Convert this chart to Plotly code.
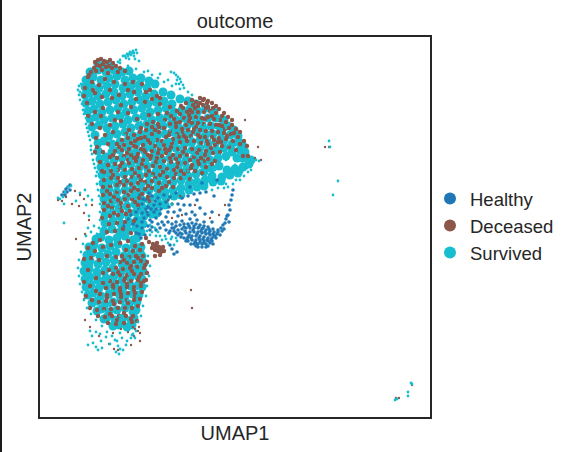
import plotly.graph_objects as go

# Values; the scale is the reading scale of the frame (no UMAP ticks are shown).
survived_body = [
(98,65),(105,64),(111,66),
(90,72),(98,70),(106,72),(114,70),(122,72),(129,71),
(86,80),(93,77),(101,80),(109,78),(117,76),(125,80),(133,78),(141,78),(149,81),
(85,87),(91,85),(99,88),(107,86),(115,84),(123,88),(131,86),(139,85),(147,88),(155,84),
(85,95),(90,93),(98,96),(106,94),(114,92),(122,96),(130,94),(138,92),(146,96),(154,94),(163,92),(171,95),
(86,103),(92,101),(100,104),(108,102),(116,100),(124,104),(132,102),(140,100),(148,104),(156,102),(164,101),(172,104),(180,99),(188,101),(196,104),
(88,111),(94,109),(102,112),(110,110),(118,108),(126,112),(134,110),(142,108),(150,112),(158,110),(166,108),(174,112),(182,110),(190,109),(198,111),(206,108),(214,112),
(90,119),(96,117),(104,120),(112,118),(120,116),(128,120),(136,118),(144,116),(152,120),(160,118),(168,116),(176,120),(184,118),(192,116),(200,120),(208,118),(216,118),(224,120),
(92,127),(99,125),(107,128),(115,126),(123,124),(131,128),(139,126),(147,124),(155,128),(163,126),(171,124),(179,128),(187,126),(195,124),(203,128),(211,126),(220,127),(228,126),(234,130),
(95,135),(109,136),(117,134),(125,132),(133,136),(141,134),(149,132),(157,136),(165,134),(173,132),(181,136),(189,134),(197,132),(205,136),(213,134),(221,132),(230,135),(238,136),
(98,143),(104,141),(112,144),(120,142),(128,140),(136,144),(144,142),(152,140),(160,144),(168,142),(176,140),(184,144),(192,142),(200,140),(208,144),(216,142),(224,140),(232,144),(239,142),(243,146),
(98,151),(112,152),(120,150),(128,148),(136,152),(144,150),(152,148),(160,152),(168,150),(176,148),(184,152),(192,150),(200,148),(208,152),(216,150),(224,148),(232,152),(240,150),(245,152),
(100,159),(106,157),(114,160),(122,158),(130,156),(138,160),(146,158),(154,156),(162,160),(170,158),(178,156),(186,160),(194,158),(202,156),(210,160),(218,158),(226,156),(237,158),(243,158),(251,160),
(101,167),(107,165),(115,168),(123,166),(131,164),(139,168),(147,166),(155,164),(163,168),(171,166),(179,164),(187,168),(195,166),(203,164),(211,168),(219,166),(227,170),(235,169),(243,167),(249,164),
(102,175),(108,173),(116,176),(124,174),(132,172),(140,176),(148,174),(156,172),(164,176),(172,174),(180,172),(188,176),(196,174),(204,172),(212,176),(222,177),(230,175),(238,173),
(103,183),(109,181),(117,184),(125,182),(133,180),(141,184),(149,182),(157,180),(165,184),(173,182),(181,180),(189,184),(197,182),(205,180),(213,182),(221,181),
(104,191),(109,189),(117,192),(125,190),(133,188),(141,192),(149,190),(157,188),(165,192),(173,190),(181,188),(189,190),(197,187),(204,186),
(104,199),(110,197),(118,200),(126,198),(134,196),(142,200),(150,198),(158,196),(166,198),(174,196),(181,195),
(105,207),(111,205),(119,208),(127,206),(135,204),(143,208),(151,206),(159,204),(165,205),
(105,215),(112,213),(120,216),(128,214),(136,212),(144,216),(152,214),(157,213),
(105,223),(113,221),(121,224),(129,222),(137,220),(143,224),
(104,231),(112,229),(120,232),(128,230),(136,228),(141,232),
(96,239),(101,237),(109,240),(117,238),(125,236),(133,240),(137,238),
(89,247),(94,245),(102,248),(110,246),(118,244),(126,248),(134,246),(141,247),
(87,255),(92,253),(100,256),(108,254),(116,252),(124,256),(132,254),(140,252),(142,256),
(85,263),(90,261),(98,264),(106,262),(114,260),(122,264),(130,262),(138,260),(144,263),
(84,271),(89,269),(97,272),(105,270),(113,268),(121,272),(129,270),(137,268),(143,271),
(85,279),(90,277),(98,280),(106,278),(114,276),(122,280),(130,278),(138,276),(142,279),
(86,287),(91,285),(99,288),(107,286),(115,284),(123,288),(131,286),(139,284),(142,287),
(88,295),(93,293),(101,296),(109,294),(117,292),(125,296),(133,294),(139,295),
(92,303),(97,301),(105,304),(113,302),(121,300),(129,304),(137,302),
(97,311),(101,309),(109,312),(117,310),(125,308),(133,312),(136,310),
(104,319),(107,317),(115,320),(123,318),(131,320),(134,318),
(113,326),(119,325),(127,327),(132,325),
]

survived_fine = [
(123,56),(127,54),(130,52),(133,51),(136,50),(131,55),(134,56),(137,53),(126,58),(129,59),(135,59),(139,61),(120,60),(118,62),(128,56),(132,53),(134,53),(129,54),(125,56),
(171,72),(174,73),(176,75),(178,77),(180,79),(181,82),(183,85),(184,88),(179,84),(177,80),
(79,86),(78,90),(79,95),(80,100),(83,110),(84,114),(86,124),(88,132),(90,140),(91,146),(92,154),(93,160),(95,168),(96,176),(97,184),
(81,84),(80,92),(82,104),(84,106),(86,118),(87,128),(89,136),(91,150),(94,164),(97,172),(98,190),(99,196),(100,204),(100,212),(100,220),(99,228),(97,234),
(120,63),(128,66),(136,69),(144,72),(152,75),(158,78),(164,82),(172,86),(180,89),(188,92),(148,71),(160,74),(168,80),(176,84),(192,95),
(252,163),(256,160),(259,161),(248,172),(244,176),(240,180),(233,184),(228,187),(224,188),(218,188),(212,190),(247,168),(251,170),(242,172),(236,180),(226,184),
(85,190),(88,196),(63,197),(60,199),(76,201),(86,205),(64,204),(58,198),(89,216),(64,223),(92,200),(80,193),(94,226),
(68,187),(71,186),(65,192),
(165,236),(171,239),(177,241),(162,240),(168,243),(174,245),(158,232),(155,228),(150,235),(147,231),(160,236),(166,239),(172,237),(176,238),(152,232),(156,236),
(88,228),(91,232),(86,236),(83,244),(81,252),(79,260),(78,268),(79,276),(80,284),(82,292),(84,300),(87,308),(91,314),(96,320),(102,326),(148,256),(150,266),(149,276),(147,286),(146,296),(143,306),(141,316),(138,322),
(107,332),(112,336),(120,333),(128,330),(132,335),(136,331),(115,340),(122,338),(127,341),(131,338),(110,344),(118,346),(120,349),(116,352),(119,354),(123,350),(126,345),(133,334),(135,338),
(90,331),(92,336),(96,332),(100,334),(101,341),(93,343),(96,347),(88,345),(102,348),(98,350),(106,337),(117,341),
(104,250),(112,290),(96,270),(88,258),(92,266),(100,275),(118,262),(93,282),(84,272),(128,300),(120,316),(110,306),(136,314),
(126,266),(133,284),(108,280),(117,297),(137,296),(104,311),(123,276),(128,254),(113,249),
(150,120),(138,96),(155,140),(175,150),(200,170),(220,155),(235,165),(185,132),(130,160),(118,190),(160,200),(145,170),(170,130),(210,140),(192,180),(125,135),(140,210),(112,210),(150,225),(128,228),(165,158),(205,125),(228,145),(178,175),(135,150),(155,180),(195,155),(215,170),(108,180),(122,175),
(141,122),(164,142),(183,160),(197,130),(148,160),(116,148),(172,205),(132,197),(208,178),(226,160),(242,164),(188,145),(158,170),(104,158),(122,126),
(143,155),(152,146),(168,164),(180,148),(192,138),(204,147),(216,128),(127,172),(139,187),(113,200),(147,202),(126,218),(164,122),(176,135),(134,178),(202,162),(188,171),(174,183),(160,147),(148,137),
(211,112),(218,120),(226,128),(232,137),(238,147),(199,116),(193,126),(186,120),(178,130),(171,141),(163,135),(155,151),(147,146),(139,143),(131,152),(124,158),(117,170),(110,184),(119,207),(126,196),(136,193),(144,184),(152,176),(159,163),(167,172),(175,165),(183,177),(196,148),(209,132),(222,137),
(128,258),(135,269),(141,266),(122,283),(129,274),(137,289),(115,271),(109,290),(123,305),(131,297),
(329,141),(330,147),(338,181),(333,195),(411,383),(412,384),(408,392),(408,396),(395,400),(397,399),
]

deceased = [
(95,62),(98,60),(101,59),(104,61),(107,62),(110,60),(113,63),(97,65),(100,66),(103,64),(106,67),(109,66),(112,68),(94,68),(91,72),(96,71),(102,70),(108,73),(116,66),(120,68),(118,72),(125,71),
(88,77),(92,82),(85,88),(84,96),(87,103),(93,90),(99,85),(105,79),(114,82),(125,84),(133,82),(142,84),(150,90),(157,96),(152,99),(128,90),(112,98),(103,108),(95,112),(88,116),(92,124),(100,128),(118,112),(131,107),(145,102),(160,104),(170,107),(181,106),(190,110),(203,100),(207,103),
(96,138),(95,152),(100,162),(102,171),(108,144),(113,132),(121,121),(137,119),(149,115),(158,114),(167,113),
(186,103),(192,100),(196,102),(200,98),(204,99),(208,101),(212,103),(216,106),(193,105),(198,106),(203,105),(208,107),(213,108),(219,109),(224,113),(228,117),(232,120),(222,116),(216,113),(210,111),(204,112),(198,112),(192,112),(187,112),(180,114),(184,118),(190,118),(196,117),(202,118),(208,117),(214,119),(220,120),(226,122),(232,125),(236,129),(240,132),(229,128),(222,126),(216,125),(210,124),(204,124),(198,123),(192,123),(186,125),(180,122),(174,119),(170,124),(176,127),(182,129),(188,130),(194,129),(200,130),(206,131),(212,131),(218,132),(224,133),(231,134),(238,137),(244,141),(247,146),(240,144),(233,141),(226,139),(219,138),(212,137),(205,137),(198,135),(191,136),(184,136),(177,134),(170,131),(164,128),(158,124),(152,127),(146,130),(140,132),(134,135),(128,138),(122,140),(117,144),(124,145),(131,143),(138,139),(145,137),(152,134),(159,132),(166,137),(173,139),(180,142),(187,141),(194,141),(201,143),(208,144),(215,145),(222,146),(229,147),(236,150),(243,156),(248,156),
(115,151),(122,150),(129,149),(136,147),(143,145),(150,143),(157,140),(164,145),(171,147),(178,149),(185,148),(192,149),(199,150),(206,151),(213,153),(220,152),
(110,157),(117,158),(124,156),(131,155),(138,154),(145,152),(152,151),(159,149),(166,153),(173,155),(180,156),(187,155),(194,157),(201,158),(208,159),(215,161),
(108,165),(115,164),(122,163),(129,163),(136,161),(143,160),(150,159),(157,158),(164,161),(171,162),(178,163),(185,163),(192,165),(199,164),(206,167),
(104,172),(111,171),(118,170),(125,170),(132,169),(139,168),(146,167),(153,166),(160,167),(167,169),(174,170),(181,171),(188,171),(195,171),(202,173),
(104,180),(111,178),(118,178),(125,177),(132,177),(139,176),(146,175),(153,174),(160,175),(167,177),(174,178),(181,178),(190,179),
(103,187),(110,186),(117,185),(124,185),(131,184),(138,183),(145,182),(152,181),(159,183),(166,186),(173,187),
(103,195),(110,194),(117,192),(124,192),(131,191),(138,190),(145,189),(152,188),(159,191),
(104,203),(111,201),(118,200),(125,199),(132,199),(139,198),(148,197),(104,210),(112,208),(120,207),(128,206),(138,205),(102,218),(110,216),(118,215),(126,214),(109,224),(117,223),(125,222),(134,221),(107,232),(115,231),(123,229),(131,233),
(100,240),(93,243),(88,248),(95,251),(103,247),(111,245),(120,243),(128,241),(135,246),(142,244),(84,259),(91,258),(99,260),(107,256),(116,257),
(153,244),(156,246),(159,247),(162,249),(155,250),(158,251),(161,252),(164,251),(152,248),(157,243),(149,242),(146,238),(160,255),(155,256),(160,250),(156,248),(163,247),(158,249),(153,246),
(126,250),(133,251),(140,250),(122,256),(129,257),(136,256),(143,256),(120,262),(127,263),(134,262),(141,261),(147,262),(116,268),(123,269),(130,268),(137,267),(144,268),(113,274),(120,275),(127,275),(134,274),(141,274),(147,273),(110,281),(117,282),(124,281),(131,281),(138,280),(144,281),(106,288),(113,288),(120,288),(127,287),(134,287),(141,286),(100,294),(107,295),(114,294),(121,294),(128,293),(135,293),(142,292),
(88,270),(84,282),(90,286),(96,278),(103,273),(86,296),(92,300),(99,302),(106,301),(113,301),(120,302),(127,300),(134,300),(140,299),(90,308),(97,310),(104,309),(111,309),(118,308),(125,308),(132,308),(138,306),
(98,316),(105,317),(112,316),(119,316),(126,316),(133,316),(108,323),(116,324),(124,323),(132,322),(137,321),
# second reading pass over the densest patches
(127,153),(134,158),(141,149),(148,155),(155,146),(162,156),(169,150),(176,159),(183,152),(190,160),(197,153),(204,161),(211,148),(218,142),(225,129),(205,119),(196,127),(189,121),(183,132),(176,123),(169,135),(162,141),(155,130),(148,140),(141,128),(134,146),(126,134),(119,147),(113,155),(120,166),(128,160),(135,173),(142,164),(149,171),(156,162),(163,172),(170,158),(177,167),(184,174),(191,168),(198,161),(205,155),(212,164),(127,181),(134,188),(141,180),(148,186),(155,178),(162,188),(169,182),(176,174),(113,175),(120,182),(107,191),(114,197),(121,203),(128,195),(135,202),(142,194),(149,201),(114,213),(122,211),(108,206),(130,211),
(219,125),(212,116),(206,108),(200,103),(195,108),(189,115),(183,108),(177,111),(171,116),(165,120),(159,127),(153,122),(147,124),(141,138),(135,141),(129,130),(234,133),(227,136),(221,142),(214,140),(207,141),(200,137),(193,132),(186,138),(179,137),(172,143),(165,149),(158,153),(151,156),(144,150),(137,157),
(124,260),(131,266),(138,258),(145,265),(118,272),(125,278),(132,271),(139,277),(146,280),(113,285),(120,291),(127,284),(134,290),(141,283),(107,298),(114,304),(121,297),(128,303),(135,296),(109,270),(103,283),(96,291),(110,314),(117,320),(124,313),(131,319),
(89,75),(95,93),(102,97),(110,90),(119,95),(136,99),(101,116),(115,120),(128,113),(97,147),(105,135),(103,152),(110,125),(121,105),(134,92),(146,92),(160,98),
]

deceased_sparse = [
(135,329),(138,331),(133,327),(128,332),(121,329),
(113,333),(140,333),(139,327),(131,345),(134,336),(140,341),(118,350),(114,349),(109,344),(99,336),(90,327),(85,320),(84,299),
(75,191),(80,195),(62,201),(58,200),(72,204),(66,197),(84,199),(79,206),(84,213),(92,205),(85,234),(76,239),(89,220),
(191,290),(192,308),(329,147),(325,147),(396,398),(399,398),(412,385),
(255,158),(261,160),(258,147),(245,120),
(168,200),(180,196),(195,205),(210,218),(225,205),(219,215),(182,215),(172,218),
]

healthy = [
(66,189),(68,187),(70,185),(64,192),(67,192),(70,190),(62,195),(65,195),
(172,228),(176,226),(180,225),(184,224),(188,224),(192,223),(196,224),(200,225),(204,226),(208,227),
(174,231),(178,230),(182,229),(186,228),(190,228),(194,228),(198,228),(202,229),(206,230),(210,231),(214,232),
(178,235),(182,234),(186,233),(190,232),(194,232),(198,232),(202,233),(206,234),(210,235),(214,236),(217,234),
(184,238),(188,237),(192,236),(196,236),(200,236),(204,237),(208,238),(212,238),(216,238),(220,235),
(188,241),(192,240),(196,240),(200,240),(204,241),(208,241),(212,241),(194,244),(198,244),(202,244),(206,244),(210,243),(198,247),(202,247),(206,247),(213,244),
(180,233),(185,231),(189,235),(193,230),(197,234),(201,231),(205,232),(209,233),(213,234),(187,239),(191,238),(195,242),(199,238),(203,239),(207,240),(211,240),(215,236),(200,242),(204,243),(208,246),(196,246),(184,227),(189,226),(194,226),(199,227),(203,228),(176,233),(181,237),(186,241),(191,244),(218,232),(209,229),(213,229),(174,228),(170,231),
(218,230),(221,228),(223,225),(222,231),(225,223),(226,219),(228,215),(230,210),(229,205),(231,200),(232,195),(233,190),(229,222),(224,229),(227,216),
(164,225),(168,222),(172,224),(160,228),(156,230),(152,227),(166,230),(169,233),(176,222),(182,221),(190,219),(197,220),(204,222),(162,222),(158,224),
(140,195),(146,200),(152,196),(158,198),(164,195),(170,197),(176,193),(182,198),(188,196),(194,194),(200,193),(206,192),(197,200),(190,205),(184,205),(178,204),(172,204),(166,202),(160,204),(154,205),(148,207),(142,204),
(136,212),(142,213),(148,215),(154,212),(160,214),(168,212),(174,212),(180,210),(186,214),(192,212),(200,208),(205,214),(212,222),(136,219),(142,222),(150,220),(156,218),(166,217),(178,216),
(146,209),(152,222),(148,226),(142,228),(150,230),(196,243),(170,245),(172,249),(177,252),(174,254),(195,215),(212,212),
(145,235),(139,234),(137,226),(131,215),(124,226),(190,187),(202,183),(214,196),(217,180),
(144,218),(147,212),(151,209),(156,209),(139,209),(143,199),(149,193),(155,201),(161,209),(169,207),(133,224),(128,219),(136,233),(141,238),
]

PANEL_X = [40, 430]
PANEL_Y = [417, 37]
INK = "#262626"
FONT = "Liberation Sans, Arial, sans-serif"
COL_H, COL_D, COL_S = "#1f77b4", "#8c564b", "#17becf"


def xs(points):
    return [p[0] for p in points]


def ys(points):
    return [p[1] for p in points]


fig = go.Figure()
fig.add_trace(go.Scatter(x=xs(survived_body), y=ys(survived_body), mode="markers", name="Survived",
                         legendrank=3, marker=dict(color=COL_S, size=9, line_width=0)))
fig.add_trace(go.Scatter(x=xs(healthy), y=ys(healthy), mode="markers", name="Healthy",
                         legendrank=1, marker=dict(color=COL_H, size=3.6, line_width=0)))
fig.add_trace(go.Scatter(x=xs(deceased), y=ys(deceased), mode="markers", name="Deceased",
                         legendrank=2, marker=dict(color=COL_D, size=4.4, line_width=0)))
fig.add_trace(go.Scatter(x=xs(deceased_sparse), y=ys(deceased_sparse), mode="markers", name="Deceased",
                         showlegend=False, marker=dict(color=COL_D, size=2.4, line_width=0)))
fig.add_trace(go.Scatter(x=xs(survived_fine), y=ys(survived_fine), mode="markers", name="Survived",
                         showlegend=False, marker=dict(color=COL_S, size=2.8, line_width=0)))

axis = dict(showgrid=False, zeroline=False, showticklabels=False, ticks="", showline=True,
            mirror=True, linecolor=INK, linewidth=2)
fig.update_layout(
    width=565, height=452, margin=dict(l=40, r=135, t=37, b=35, autoexpand=False),
    paper_bgcolor="white", plot_bgcolor="white",
    font=dict(family=FONT, color=INK, size=18),
    title=dict(text="outcome", x=235 / 565, xanchor="center", y=1 - 21 / 452, yanchor="middle",
               font=dict(size=20, family=FONT, color=INK)),
    xaxis=dict(range=PANEL_X, title=dict(text="UMAP1", font=dict(size=20), standoff=8), **axis),
    yaxis=dict(range=PANEL_Y, title=dict(text="UMAP2", font=dict(size=20), standoff=1), **axis),
    legend=dict(x=1.0, xanchor="left", y=0.503, yanchor="middle", itemsizing="constant",
                font=dict(size=18.5, family=FONT, color=INK), bgcolor="rgba(0,0,0,0)", borderwidth=0,
                itemclick=False, tracegroupgap=0),
    shapes=[dict(type="line", xref="paper", yref="paper", x0=-0.1, x1=-0.1, y0=-0.1, y1=1.1,
                 line=dict(color="#1a1a1a", width=2))],
)
fig.write_html("out.html", post_script="document.body.style.margin='0';", config={"displayModeBar": False})
